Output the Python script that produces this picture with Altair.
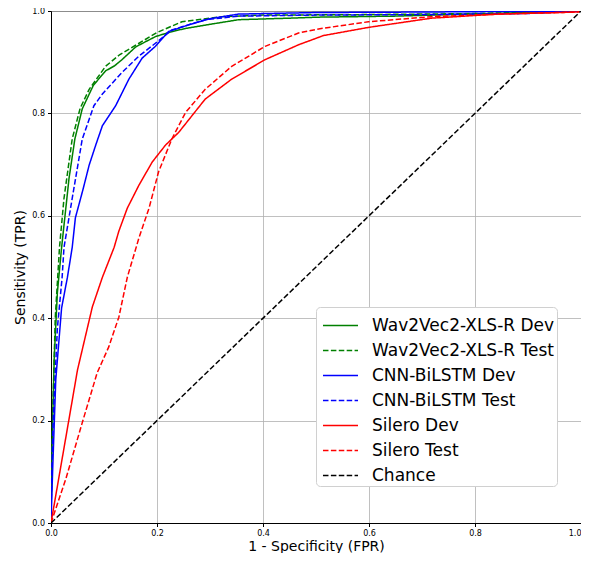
import altair as alt
import pandas as pd

series_names = [
    "Wav2Vec2-XLS-R Dev", "Wav2Vec2-XLS-R Test",
    "CNN-BiLSTM Dev", "CNN-BiLSTM Test",
    "Silero Dev", "Silero Test", "Chance",
]
series_colors = ["#008000", "#008000", "#0000ff", "#0000ff", "#ff0000", "#ff0000", "#000000"]
series_dashes = [[1, 0], [5.5, 2.4], [1, 0], [5.5, 2.4], [1, 0], [5.5, 2.4], [5.5, 2.4]]

w2v_dev_x = [0.0, 0.002, 0.006, 0.012, 0.020, 0.034, 0.045, 0.059, 0.080, 0.103, 0.120, 0.134, 0.160, 0.197, 0.225, 0.254, 0.300, 0.354, 0.450, 0.505, 0.650, 0.790, 0.900, 1.0]
w2v_dev_y = [0.0, 0.15, 0.32, 0.45, 0.538, 0.673, 0.750, 0.809, 0.855, 0.883, 0.893, 0.905, 0.930, 0.950, 0.959, 0.966, 0.974, 0.983, 0.986, 0.988, 0.990, 0.994, 0.997, 1.0]

w2v_test_x = [0.0, 0.001, 0.003, 0.008, 0.016, 0.0245, 0.040, 0.055, 0.072, 0.103, 0.130, 0.166, 0.200, 0.247, 0.322, 0.400, 0.600, 0.800, 1.0]
w2v_test_y = [0.0, 0.10, 0.20, 0.40, 0.538, 0.634, 0.750, 0.810, 0.847, 0.892, 0.915, 0.937, 0.958, 0.979, 0.989, 0.992, 0.993, 0.995, 1.0]

cnn_dev_x = [0.0, 0.003, 0.009, 0.020, 0.031, 0.040, 0.046, 0.060, 0.072, 0.085, 0.097, 0.122, 0.147, 0.172, 0.197, 0.222, 0.260, 0.300, 0.354, 0.500, 0.700, 1.0]
cnn_dev_y = [0.0, 0.10, 0.28, 0.42, 0.48, 0.538, 0.596, 0.650, 0.699, 0.740, 0.776, 0.815, 0.867, 0.908, 0.931, 0.960, 0.973, 0.985, 0.994, 0.997, 0.998, 1.0]

cnn_test_x = [0.0, 0.001, 0.004, 0.012, 0.021, 0.0245, 0.040, 0.059, 0.081, 0.097, 0.134, 0.166, 0.197, 0.228, 0.291, 0.354, 0.500, 0.700, 0.900, 1.0]
cnn_test_y = [0.0, 0.08, 0.20, 0.38, 0.48, 0.538, 0.634, 0.750, 0.815, 0.838, 0.880, 0.912, 0.937, 0.963, 0.983, 0.990, 0.992, 0.993, 0.995, 1.0]

sil_dev_x = [0.0, 0.034, 0.050, 0.078, 0.097, 0.119, 0.128, 0.144, 0.166, 0.191, 0.216, 0.241, 0.291, 0.341, 0.404, 0.467, 0.514, 0.599, 0.718, 0.844, 0.994, 1.0]
sil_dev_y = [0.0, 0.203, 0.299, 0.422, 0.480, 0.538, 0.570, 0.615, 0.660, 0.705, 0.738, 0.763, 0.828, 0.867, 0.905, 0.934, 0.952, 0.968, 0.986, 0.994, 0.998, 1.0]

sil_test_x = [0.0, 0.028, 0.059, 0.087, 0.109, 0.128, 0.144, 0.166, 0.185, 0.203, 0.228, 0.254, 0.291, 0.341, 0.404, 0.467, 0.505, 0.599, 0.718, 0.850, 0.994, 1.0]
sil_test_y = [0.0, 0.086, 0.196, 0.293, 0.344, 0.402, 0.480, 0.557, 0.615, 0.686, 0.750, 0.802, 0.847, 0.892, 0.931, 0.957, 0.965, 0.979, 0.989, 0.994, 0.998, 1.0]

chance_x = [0.0, 1.0]
chance_y = [0.0, 1.0]

all_x = [w2v_dev_x, w2v_test_x, cnn_dev_x, cnn_test_x, sil_dev_x, sil_test_x, chance_x]
all_y = [w2v_dev_y, w2v_test_y, cnn_dev_y, cnn_test_y, sil_dev_y, sil_test_y, chance_y]

rows = []
for name, xs, ys in zip(series_names, all_x, all_y):
    for i, (xv, yv) in enumerate(zip(xs, ys)):
        rows.append({"series": name, "fpr": xv, "tpr": yv, "order": i})
df = pd.DataFrame(rows)

ticks = [0.0, 0.2, 0.4, 0.6, 0.8, 1.0]
font = "DejaVu Sans"

legend_opts = dict(title=None, orient="none", legendX=265, legendY=296)

chart = alt.Chart(df).mark_line(strokeWidth=1.5, clip=True).encode(
    x=alt.X("fpr:Q", title="1 - Specificity (FPR)",
            scale=alt.Scale(domain=[0, 1], nice=False),
            axis=alt.Axis(values=ticks, format=".1f", labelFlush=False,
                          labelAlign=alt.ExprRef(expr="datum.value == 1 ? 'right' : 'center'"))),
    y=alt.Y("tpr:Q", title="Sensitivity (TPR)",
            scale=alt.Scale(domain=[0, 1], nice=False),
            axis=alt.Axis(values=ticks, format=".1f", titlePadding=4)),
    color=alt.Color("series:N", sort=series_names,
                    scale=alt.Scale(domain=series_names, range=series_colors),
                    legend=alt.Legend(**legend_opts)),
    strokeDash=alt.StrokeDash("series:N", sort=series_names,
                              scale=alt.Scale(domain=series_names, range=series_dashes),
                              legend=alt.Legend(**legend_opts)),
    detail="series:N",
    order="order:Q",
).properties(
    width=530, height=512,
    padding={"left": 43, "top": 3, "right": 0, "bottom": 30},
    autosize=alt.AutoSizeParams(type="none"),
).configure_view(
    stroke="black", strokeWidth=1
).configure_axis(
    labelFont=font, titleFont=font, labelFontSize=8, titleFontSize=14,
    labelColor="black", titleColor="black", titleFontWeight="normal",
    domainColor="black", tickColor="black", tickSize=3.5, labelPadding=3,
    gridColor="#b0b0b0", gridWidth=0.8,
).configure_axisX(
    titlePadding=1.5,
).configure_legend(
    labelFont=font, labelFontSize=17, labelColor="black", labelLimit=400,
    symbolType="M-1.13,0H1.13", symbolSize=961, symbolStrokeWidth=1.5,
    symbolOffset=6,
    fillColor="white", strokeColor="#d0d0d0", cornerRadius=4,
    padding=2, rowPadding=0, labelOffset=15,
)

chart.save("out.html", embed_options={"renderer": "svg", "actions": False})
